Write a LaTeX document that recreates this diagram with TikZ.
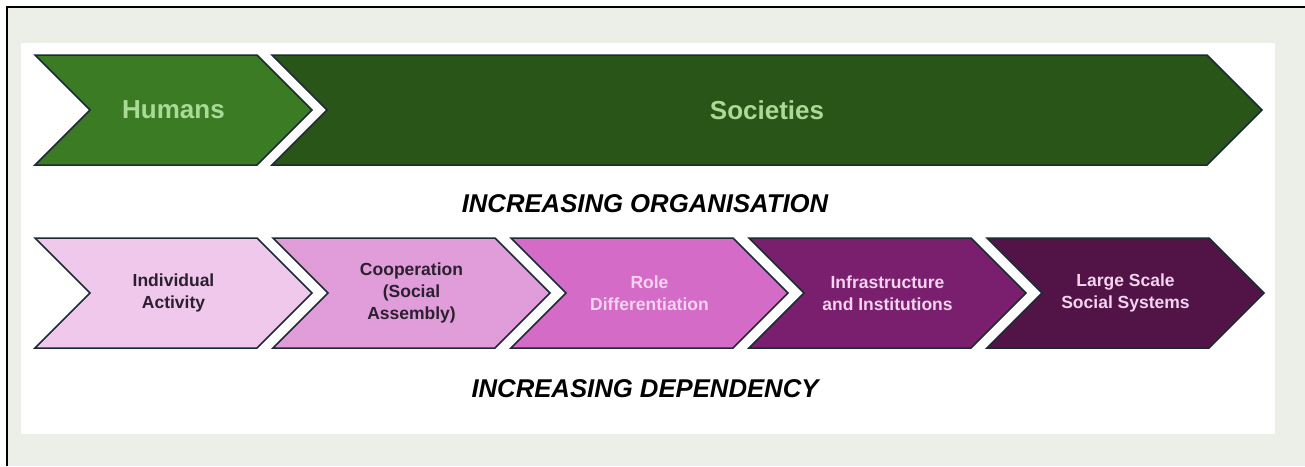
\documentclass[tikz,border=0pt]{standalone}
\usepackage{fontspec}
\setmainfont{Liberation Sans}
\usetikzlibrary{shapes.symbols}
\definecolor{pagegray}{HTML}{ECEEE8}
\definecolor{edgenavy}{HTML}{1B2A35}
\definecolor{humansgreen}{HTML}{3B7B24}
\definecolor{societygreen}{HTML}{2A5519}
\definecolor{leafgreen}{HTML}{A9DA96}
\definecolor{stageone}{HTML}{F0C8EC}
\definecolor{stagetwo}{HTML}{E19CDA}
\definecolor{stagethree}{HTML}{D46BC7}
\definecolor{stagefour}{HTML}{7A1F6D}
\definecolor{stagefive}{HTML}{521447}
\definecolor{darktext}{HTML}{2B2030}
\definecolor{palepink}{HTML}{F3D3EF}

\begin{document}
\begin{tikzpicture}[
            x=1pt, y=-1pt,
            node distance=238pt,
            chevron/.style={signal, signal to=east, signal from=west,
                        signal pointer angle=90, draw=edgenavy, line width=1.5pt,
                        minimum height=110pt, minimum width=277pt, inner sep=0pt,
                        text=leafgreen, font=\fontsize{26}{30}\selectfont\bfseries},
            stage/.style={chevron, align=center, text=palepink,
                        font=\fontsize{17.5}{22}\selectfont\bfseries},
            caption/.style={font=\fontsize{25.7}{30}\selectfont\bfseries\itshape}
        ]
            \useasboundingbox (0,0) rectangle (1305,466);
            \fill[pagegray] (7,7) rectangle (1305,466);
            \fill[white] (21,43) rectangle (1275,434);
            \draw[line width=2pt] (7,466) -- (7,7) -- (1305,7);

            % top row
            \node[chevron, fill=humansgreen] (humans) at (173.5,110) {Humans};
            \node[chevron, fill=societygreen, minimum width=990pt] (societies) at (767,110) {Societies};
            \node[caption] (organisation) at (645,204) {INCREASING ORGANISATION};

            % bottom row
            \node[stage, fill=stageone, text=darktext] (individual) at (173.5,293) {Individual\\Activity};
            \node[stage, fill=stagetwo, text=darktext, right of=individual] (cooperation) {Cooperation\\(Social\\Assembly)};
            \node[stage, fill=stagethree, right of=cooperation] (role) {Role\\Differentiation};
            \node[stage, fill=stagefour, right of=role] (infrastructure) {Infrastructure\\and Institutions};
            \node[stage, fill=stagefive, right of=infrastructure] (largescale) {Large Scale\\Social Systems};
            \node[caption] (dependency) at (645,389) {INCREASING DEPENDENCY};
        \end{tikzpicture}
\end{document}
